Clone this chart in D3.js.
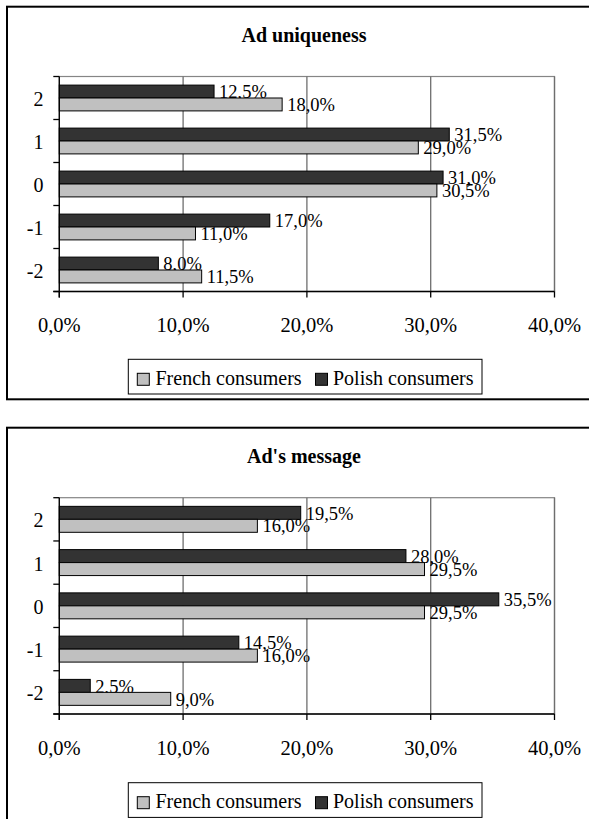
<!DOCTYPE html>
<html>
<head>
<meta charset="utf-8">
<script src="https://cdn.jsdelivr.net/npm/d3@7"></script>
<style>
  body { margin: 0; background: #fff; }
  svg { display: block; }
  text { font-family: "Liberation Serif", "Times New Roman", serif; fill: #000; }
</style>
</head>
<body>
<svg id="c" width="589" height="819"></svg>
<script>
// ---- data ----
const categories = ["2", "1", "0", "-1", "-2"];
const seriesNames = ["French consumers", "Polish consumers"];
const titles = ["Ad uniqueness", "Ad's message"];
const uniquenessFrench = [18.0, 29.0, 30.5, 11.0, 11.5];
const uniquenessPolish = [12.5, 31.5, 31.0, 17.0, 8.0];
const messageFrench = [16.0, 29.5, 29.5, 16.0, 9.0];
const messagePolish = [19.5, 28.0, 35.5, 14.5, 2.5];
const xTicks = [0, 10, 20, 30, 40];

const charts = [
  { title: titles[0], french: uniquenessFrench, polish: uniquenessPolish,
    layout: { boxTop: 6.7, titleBase: 41.7, plotTop: 76.5, plotBottom: 291.5, legendTop: 359.3 } },
  { title: titles[1], french: messageFrench, polish: messagePolish,
    layout: { boxTop: 427.7, titleBase: 463, plotTop: 497.7, plotBottom: 714, legendTop: 782.7 } }
];

const colors = { "French consumers": "#c0c0c0", "Polish consumers": "#333333" };
const fmt = v => d3.format(".1f")(v).replace(".", ",") + "%";

const svg = d3.select("#c");
const plotLeft = 59.3, plotRight = 554.5;

charts.forEach(ch => {
  const L = ch.layout;
  const g = svg.append("g");

  // outer chart box
  g.append("rect")
    .attr("x", 7).attr("y", L.boxTop)
    .attr("width", 600).attr("height", 392.6)
    .attr("fill", "#fff").attr("stroke", "#000").attr("stroke-width", 2);

  // title
  g.append("text")
    .attr("x", 304).attr("y", L.titleBase)
    .attr("text-anchor", "middle")
    .attr("font-size", 20).attr("font-weight", "bold")
    .text(ch.title);

  const x = d3.scaleLinear().domain([0, 40]).range([plotLeft, plotRight]);
  const y = d3.scaleBand().domain(categories).range([L.plotTop, L.plotBottom])
    .paddingInner(0.4).paddingOuter(0.2);
  const ySub = d3.scaleBand().domain(["Polish consumers", "French consumers"])
    .range([0, y.bandwidth()]);

  // plot area border (gray top/right)
  g.append("rect")
    .attr("x", plotLeft).attr("y", L.plotTop)
    .attr("width", plotRight - plotLeft).attr("height", L.plotBottom - L.plotTop)
    .attr("fill", "none").attr("stroke", "#858585").attr("stroke-width", 1.2);

  // gridlines
  g.selectAll(".grid").data(xTicks.slice(1)).enter().append("line")
    .attr("x1", d => x(d)).attr("x2", d => x(d))
    .attr("y1", L.plotTop).attr("y2", L.plotBottom)
    .attr("stroke", "#6e6e6e").attr("stroke-width", 1.3);

  // bars
  const rows = categories.map((c, i) => ({ cat: c, french: ch.french[i], polish: ch.polish[i] }));
  rows.forEach(r => {
    [["Polish consumers", r.polish], ["French consumers", r.french]].forEach(([s, v]) => {
      const yy = y(r.cat) + ySub(s);
      g.append("rect")
        .attr("x", x(0)).attr("y", yy)
        .attr("width", x(v) - x(0)).attr("height", ySub.bandwidth())
        .attr("fill", colors[s]).attr("stroke", "#000").attr("stroke-width", 1);
      g.append("text")
        .attr("x", x(v) + 5).attr("y", yy + ySub.bandwidth() / 2)
        .attr("dy", "0.36em")
        .attr("font-size", 18.5)
        .text(fmt(v));
    });
  });

  // y axis
  const yAxisScale = d3.scaleLinear().domain([0, categories.length]).range([L.plotTop, L.plotBottom]);
  g.append("line")
    .attr("x1", plotLeft).attr("x2", plotLeft)
    .attr("y1", L.plotTop).attr("y2", L.plotBottom + 6)
    .attr("stroke", "#000").attr("stroke-width", 1.3);
  d3.range(categories.length + 1).forEach(i => {
    g.append("line")
      .attr("x1", plotLeft - 6).attr("x2", plotLeft)
      .attr("y1", yAxisScale(i)).attr("y2", yAxisScale(i))
      .attr("stroke", "#000").attr("stroke-width", 1.3);
  });
  g.selectAll(".ylab").data(categories).enter().append("text")
    .attr("x", 43.5).attr("y", d => y(d) + y.bandwidth() / 2 + 8)
    .attr("text-anchor", "end").attr("font-size", 20)
    .text(d => d);

  // x axis
  g.append("line")
    .attr("x1", plotLeft - 6).attr("x2", plotRight)
    .attr("y1", L.plotBottom).attr("y2", L.plotBottom)
    .attr("stroke", "#000").attr("stroke-width", 1.3);
  xTicks.forEach(t => {
    g.append("line")
      .attr("x1", x(t)).attr("x2", x(t))
      .attr("y1", L.plotBottom).attr("y2", L.plotBottom + 6)
      .attr("stroke", "#000").attr("stroke-width", 1.3);
  });
  g.selectAll(".xlab").data(xTicks).enter().append("text")
    .attr("x", d => x(d)).attr("y", L.plotBottom + 40.5)
    .attr("text-anchor", "middle").attr("font-size", 20.5)
    .text(d => fmt(d));

  // legend
  const lg = g.append("g");
  lg.append("rect")
    .attr("x", 128.3).attr("y", L.legendTop)
    .attr("width", 353.7).attr("height", 34.7)
    .attr("fill", "#fff").attr("stroke", "#000").attr("stroke-width", 1);
  const items = [
    { name: seriesNames[0], sx: 137.3, tx: 155.5 },
    { name: seriesNames[1], sx: 315.5, tx: 333 }
  ];
  items.forEach(it => {
    lg.append("rect")
      .attr("x", it.sx).attr("y", L.legendTop + 14)
      .attr("width", 12).attr("height", 12)
      .attr("fill", colors[it.name]).attr("stroke", "#000").attr("stroke-width", 1);
    lg.append("text")
      .attr("x", it.tx).attr("y", L.legendTop + 25.7)
      .attr("font-size", 20)
      .text(it.name);
  });
});
</script>
</body>
</html>
